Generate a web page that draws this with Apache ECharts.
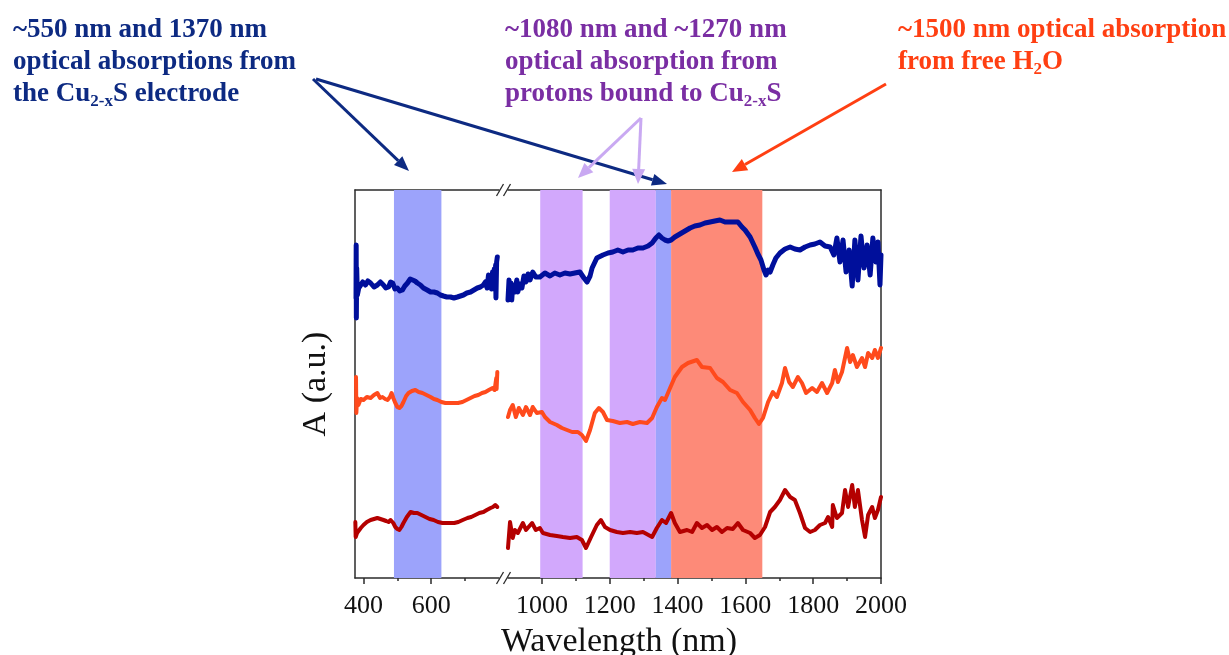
<!DOCTYPE html>
<html>
<head>
<meta charset="utf-8">
<script src="https://cdn.jsdelivr.net/npm/echarts@6/dist/echarts.min.js"></script>
<style>
  html, body { margin: 0; padding: 0; background: #ffffff; }
  #chart { width: 1229px; height: 655px; }
</style>
</head>
<body>
<div id="chart"></div>
<script>
// ---- Spectra: [wavelength (nm), absorbance (a.u., offset per trace)] ----
// Visible range segment (left panel)
const blueLeft = [[378,28.0],[378.5,33.3],[379,26.0],[380,31.0],[382,28.3],[386,29.0],[391,28.8],[398,29.6],[406,29.3],[413,29.7],[421,29.5],[431,29.1],[441,29.3],[450,29.6],[459,29.3],[466,29.0],[474,29.1],[480,29.6],[486,29.5],[493,28.9],[500,29.0],[507,28.7],[515,28.8],[522,29.2],[530,29.5],[538,29.9],[545,29.8],[552,29.7],[559,29.5],[568,29.3],[577,29.0],[588,28.8],[598,28.6],[608,28.6],[618,28.5],[627,28.3],[636,28.2],[646,28.1],[657,28.1],[667,28.0],[677,28.1],[686,28.2],[695,28.3],[705,28.5],[716,28.6],[726,28.8],[736,29.0],[745,29.1],[754,29.3],[760,29.6],[765,29.0],[769,30.3],[772,29.2],[775,30.0],[778,28.9],[781,30.6],[784,29.4],[786,30.9],[789,29.8],[790,31.3],[791,28.0],[793,31.6],[795,32.1]];
const orangeLeft = [[378,20.1],[379,16.5],[381,18.0],[385,17.3],[392,17.9],[400,17.8],[410,18.1],[421,18.0],[431,18.3],[441,18.5],[449,18.0],[456,18.1],[464,17.9],[471,17.8],[478,18.1],[483,18.5],[488,18.0],[494,17.5],[500,17.1],[506,17.0],[512,17.2],[518,17.6],[526,18.2],[533,18.5],[543,18.7],[553,18.8],[563,18.6],[574,18.5],[586,18.3],[598,18.1],[608,17.9],[618,17.8],[630,17.6],[642,17.5],[654,17.5],[666,17.5],[679,17.5],[692,17.6],[704,17.8],[716,18.0],[728,18.2],[739,18.3],[750,18.5],[760,18.6],[770,18.8],[781,19.0],[787,18.8],[790,18.7],[792,20.0],[793,18.9],[795,20.6]];
const redLeft = [[376,5.6],[377,4.1],[381,4.5],[385,4.6],[392,5.0],[400,5.3],[410,5.6],[421,5.8],[431,5.9],[441,6.0],[450,5.9],[459,5.8],[467,5.7],[474,5.6],[480,5.8],[483,6.0],[488,5.5],[494,5.1],[500,4.9],[506,4.8],[512,5.1],[518,5.5],[528,6.1],[539,6.6],[549,6.5],[559,6.5],[571,6.3],[583,6.1],[595,5.9],[607,5.8],[620,5.6],[633,5.5],[645,5.5],[657,5.5],[668,5.5],[680,5.6],[693,5.8],[707,6.0],[718,6.1],[730,6.3],[742,6.5],[754,6.6],[764,6.8],[775,7.0],[782,7.1],[789,7.3],[795,7.1]];

// Near-infrared segment (right panel)
const blueRight = [[900,27.8],[903,29.8],[906,28.0],[909,29.5],[911,27.8],[914,29.3],[920,28.6],[926,29.8],[929,28.6],[935,29.4],[941,29.0],[947,30.2],[953,29.6],[959,30.4],[965,29.8],[973,30.6],[982,30.1],[994,30.1],[1009,30.5],[1024,30.2],[1038,30.5],[1053,30.3],[1068,30.5],[1083,30.4],[1097,30.5],[1112,30.6],[1124,30.0],[1133,29.6],[1142,30.2],[1148,31.0],[1162,32.0],[1180,32.3],[1195,32.5],[1209,32.6],[1224,32.8],[1239,32.6],[1254,32.8],[1268,32.8],[1283,33.0],[1298,33.0],[1313,33.2],[1325,33.5],[1336,34.0],[1345,34.3],[1354,34.0],[1363,33.8],[1372,33.7],[1381,33.8],[1392,34.1],[1407,34.4],[1422,34.7],[1437,35.0],[1451,35.2],[1466,35.3],[1481,35.5],[1496,35.6],[1510,35.7],[1525,35.8],[1540,35.6],[1555,35.6],[1569,35.6],[1578,35.6],[1590,35.1],[1599,34.8],[1614,34.1],[1628,33.1],[1637,32.4],[1646,31.8],[1655,30.8],[1661,30.3],[1667,30.8],[1673,30.6],[1681,31.3],[1690,32.0],[1702,32.5],[1717,32.9],[1732,33.1],[1746,32.9],[1761,32.8],[1776,33.1],[1791,33.3],[1805,33.4],[1820,33.6],[1835,33.2],[1850,33.1],[1861,32.3],[1870,34.0],[1879,31.6],[1888,33.8],[1897,30.6],[1906,32.8],[1915,29.2],[1923,33.8],[1932,29.8],[1941,34.2],[1950,31.0],[1959,33.3],[1968,30.3],[1976,34.0],[1985,31.6],[1991,33.6],[1997,29.3],[2000,32.3]];
const orangeRight = [[900,16.1],[906,16.8],[914,17.3],[923,16.1],[932,17.0],[944,16.3],[953,17.1],[965,16.3],[973,17.1],[985,16.5],[1000,16.6],[1009,16.1],[1024,15.6],[1044,15.3],[1059,15.0],[1074,14.8],[1089,14.6],[1106,14.6],[1118,14.3],[1130,13.7],[1142,14.8],[1156,16.5],[1168,17.0],[1180,16.6],[1192,15.8],[1209,15.7],[1230,15.5],[1251,15.6],[1268,15.4],[1289,15.6],[1310,15.5],[1325,16.0],[1339,17.1],[1354,18.0],[1363,17.8],[1378,19.0],[1392,20.1],[1413,21.1],[1431,21.5],[1457,21.8],[1472,21.1],[1496,21.0],[1516,20.0],[1534,19.6],[1555,18.8],[1575,18.5],[1593,17.6],[1614,16.8],[1628,16.0],[1640,15.4],[1652,16.0],[1667,17.6],[1681,18.6],[1693,18.1],[1708,19.5],[1717,21.0],[1729,19.6],[1740,19.1],[1755,20.1],[1767,19.5],[1779,18.5],[1797,19.0],[1811,18.6],[1826,19.5],[1841,18.5],[1856,19.5],[1864,20.8],[1873,19.6],[1885,20.6],[1900,23.0],[1909,21.6],[1917,22.3],[1929,21.1],[1944,22.0],[1953,21.1],[1962,22.5],[1974,22.0],[1982,22.8],[1991,22.0],[2000,23.0]];
const redRight = [[900,3.0],[906,5.6],[914,4.0],[920,4.8],[929,4.5],[944,5.5],[953,4.8],[971,5.5],[982,4.8],[994,5.0],[1003,4.5],[1024,4.3],[1044,4.2],[1062,4.1],[1083,4.0],[1103,4.1],[1118,3.8],[1130,3.0],[1145,4.1],[1162,5.3],[1174,5.8],[1186,5.1],[1201,4.8],[1221,4.6],[1239,4.5],[1260,4.6],[1280,4.5],[1298,4.6],[1325,4.1],[1339,5.0],[1354,5.8],[1366,5.5],[1381,6.5],[1392,5.5],[1407,4.6],[1428,4.8],[1443,4.6],[1457,5.5],[1472,5.0],[1487,5.3],[1502,4.8],[1516,5.1],[1531,4.6],[1546,5.0],[1563,4.9],[1578,5.5],[1593,4.8],[1614,4.5],[1628,4.0],[1643,4.3],[1658,5.1],[1673,6.6],[1687,7.1],[1702,7.8],[1717,8.8],[1732,8.1],[1746,7.8],[1761,6.5],[1776,5.0],[1791,4.6],[1805,4.8],[1820,5.3],[1835,5.5],[1844,6.1],[1856,5.1],[1858,7.3],[1870,6.0],[1885,6.5],[1894,8.8],[1903,7.1],[1915,9.3],[1923,7.1],[1932,8.8],[1944,5.8],[1953,4.1],[1962,6.3],[1974,7.1],[1982,6.0],[1991,6.8],[2000,8.1]];

// Highlighted absorption bands [from nm, to nm]
const bandsLeft = [[490, 630]];
const bandsRight = [[995, 1120], [1200, 1336], [1336, 1381], [1381, 1650]];
const bandColorsLeft = ['#9ca3fb'];
const bandColorsRight = ['#d2a8fc', '#d2a8fc', '#9ca3fb', '#fd8a78'];

// Axis ranges and ticks
const leftRange = [375, 800];
const rightRange = [900, 2000];
const leftMajor = [400, 600];
const leftMinor = [500, 700];
const rightMajor = [1000, 1200, 1400, 1600, 1800, 2000];
const rightMinor = [1100, 1300, 1500, 1700, 1900];
const yRange = [0, 38.8];

// ---- Layout ----
const SERIF = '"Liberation Serif", "Times New Roman", serif';
const PLOT_TOP = 190, PLOT_H = 388;
const L_LEFT = 355, L_W = 144;
const R_LEFT = 508, R_W = 373;
const FRAME = '#2b2b2b';

const colBlue = '#000f9b', colOrange = '#ff4a1c', colRed = '#b40000';

function bottomAxis(grid, range, ticks, len, labels) {
  return {
    type: 'value', gridIndex: grid, position: 'bottom', min: range[0], max: range[1],
    axisLine: { show: labels, onZero: false, lineStyle: { color: FRAME, width: 1.5 } },
    axisTick: { show: true, customValues: ticks, length: len, lineStyle: { color: FRAME, width: 1.5 } },
    axisLabel: labels ? {
      show: true, customValues: ticks, fontFamily: SERIF, fontSize: 26, color: '#111', margin: 15,
      formatter: v => String(v)
    } : { show: false },
    splitLine: { show: false }
  };
}
function topAxis(grid, range) {
  return {
    type: 'value', gridIndex: grid, position: 'top', min: range[0], max: range[1],
    axisLine: { show: true, onZero: false, lineStyle: { color: FRAME, width: 1.5 } },
    axisTick: { show: false }, axisLabel: { show: false }, splitLine: { show: false }
  };
}

function bandSeries(xIdx, yIdx, bands, colors) {
  return {
    type: 'line', xAxisIndex: xIdx, yAxisIndex: yIdx, data: [], z: 1, silent: true,
    markArea: {
      silent: true,
      data: bands.map((b, i) => [
        { xAxis: b[0], itemStyle: { color: colors[i], opacity: 1 } },
        { xAxis: b[1] }
      ])
    }
  };
}
function curve(xIdx, yIdx, data, color, width) {
  return {
    type: 'line', xAxisIndex: xIdx, yAxisIndex: yIdx, data: data, z: 5,
    showSymbol: false, symbol: 'none', smooth: false, silent: true,
    lineStyle: { color: color, width: width, join: 'round', cap: 'round' }
  };
}

// Straight arrow with filled triangular head
function arrow(x1, y1, x2, y2, color, width, headLen, headW) {
  const ang = Math.atan2(y2 - y1, x2 - x1);
  const bx = x2 - headLen * Math.cos(ang), by = y2 - headLen * Math.sin(ang);
  const px = -Math.sin(ang) * headW / 2, py = Math.cos(ang) * headW / 2;
  return [
    { type: 'line', shape: { x1: x1, y1: y1, x2: bx, y2: by }, style: { stroke: color, lineWidth: width }, z: 10 },
    { type: 'polygon', shape: { points: [[x2, y2], [bx + px, by + py], [bx - px, by - py]] }, style: { fill: color }, z: 10 }
  ];
}

function note(x, y, text, color) {
  return {
    type: 'text', left: x, top: y, z: 10,
    style: {
      text: text,
      rich: {
        t: { fontFamily: SERIF, fontWeight: 'bold', fontSize: 27, lineHeight: 32, fill: color },
        s: { fontFamily: SERIF, fontWeight: 'bold', fontSize: 17, lineHeight: 15, verticalAlign: 'bottom', fill: color }
      }
    }
  };
}

function breakMarks(x, y) {
  const out = [];
  [-3.5, 3.5].forEach(dx => {
    out.push({ type: 'line', shape: { x1: x + dx - 3.5, y1: y + 6, x2: x + dx + 3.5, y2: y - 6 },
      style: { stroke: FRAME, lineWidth: 1.3 }, z: 10 });
  });
  return out;
}

const gapX = (L_LEFT + L_W + R_LEFT) / 2;
const navy = '#0d2a82', purple = '#7a2ea3', lav = '#c9a9f2', orangeTxt = '#ff3f12';

const graphics = [].concat(
  note(13, 17, '{t|~550 nm and 1370 nm}\n{t|optical absorptions from}\n{t|the Cu}{s|2-x}{t|S electrode}', navy),
  note(505, 17, '{t|~1080 nm and ~1270 nm}\n{t|optical absorption from}\n{t|protons bound to Cu}{s|2-x}{t|S}', purple),
  note(898, 17, '{t|~1500 nm optical absorption}\n{t|from free H}{s|2}{t|O}', orangeTxt),
  arrow(313, 79, 409, 171, navy, 3, 15, 12),
  arrow(316, 79, 667, 184, navy, 3, 15, 12),
  arrow(641, 118, 578, 178, lav, 3, 15, 13),
  arrow(641, 118, 638, 184, lav, 3, 15, 13),
  arrow(886, 84, 732, 172, orangeTxt, 3, 15, 13),
  breakMarks(gapX, PLOT_TOP),
  breakMarks(gapX, PLOT_TOP + PLOT_H),
  [{
    type: 'text', z: 10,
    x: 619, y: 642,
    style: { text: 'Wavelength (nm)', fontFamily: SERIF, fontSize: 34, fill: '#111', align: 'center', verticalAlign: 'middle' }
  }]
);

const chart = echarts.init(document.getElementById('chart'), null, { renderer: 'canvas' });
chart.setOption({
  animation: false,
  backgroundColor: '#ffffff',
  grid: [
    { left: L_LEFT, top: PLOT_TOP, width: L_W, height: PLOT_H, containLabel: false },
    { left: R_LEFT, top: PLOT_TOP, width: R_W, height: PLOT_H, containLabel: false }
  ],
  xAxis: [
    bottomAxis(0, leftRange, leftMajor, 6, true),
    bottomAxis(0, leftRange, leftMinor, 3, false),
    topAxis(0, leftRange),
    bottomAxis(1, rightRange, rightMajor, 6, true),
    bottomAxis(1, rightRange, rightMinor, 3, false),
    topAxis(1, rightRange)
  ],
  yAxis: [
    {
      type: 'value', gridIndex: 0, min: yRange[0], max: yRange[1], position: 'left',
      name: 'A (a.u.)', nameLocation: 'middle', nameRotate: 90, nameGap: 22,
      nameTextStyle: { fontFamily: SERIF, fontSize: 34, color: '#111' },
      axisLine: { show: true, onZero: false, lineStyle: { color: FRAME, width: 1.5 } },
      axisTick: { show: false }, axisLabel: { show: false }, splitLine: { show: false }
    },
    {
      type: 'value', gridIndex: 1, min: yRange[0], max: yRange[1], position: 'right',
      axisLine: { show: true, onZero: false, lineStyle: { color: FRAME, width: 1.5 } },
      axisTick: { show: false }, axisLabel: { show: false }, splitLine: { show: false }
    }
  ],
  series: [
    bandSeries(0, 0, bandsLeft, bandColorsLeft),
    bandSeries(3, 1, bandsRight, bandColorsRight),
    curve(0, 0, blueLeft, colBlue, 5),
    curve(0, 0, orangeLeft, colOrange, 4),
    curve(0, 0, redLeft, colRed, 4),
    curve(3, 1, blueRight, colBlue, 5),
    curve(3, 1, orangeRight, colOrange, 4),
    curve(3, 1, redRight, colRed, 4)
  ],
  graphic: graphics
});
</script>
</body>
</html>
